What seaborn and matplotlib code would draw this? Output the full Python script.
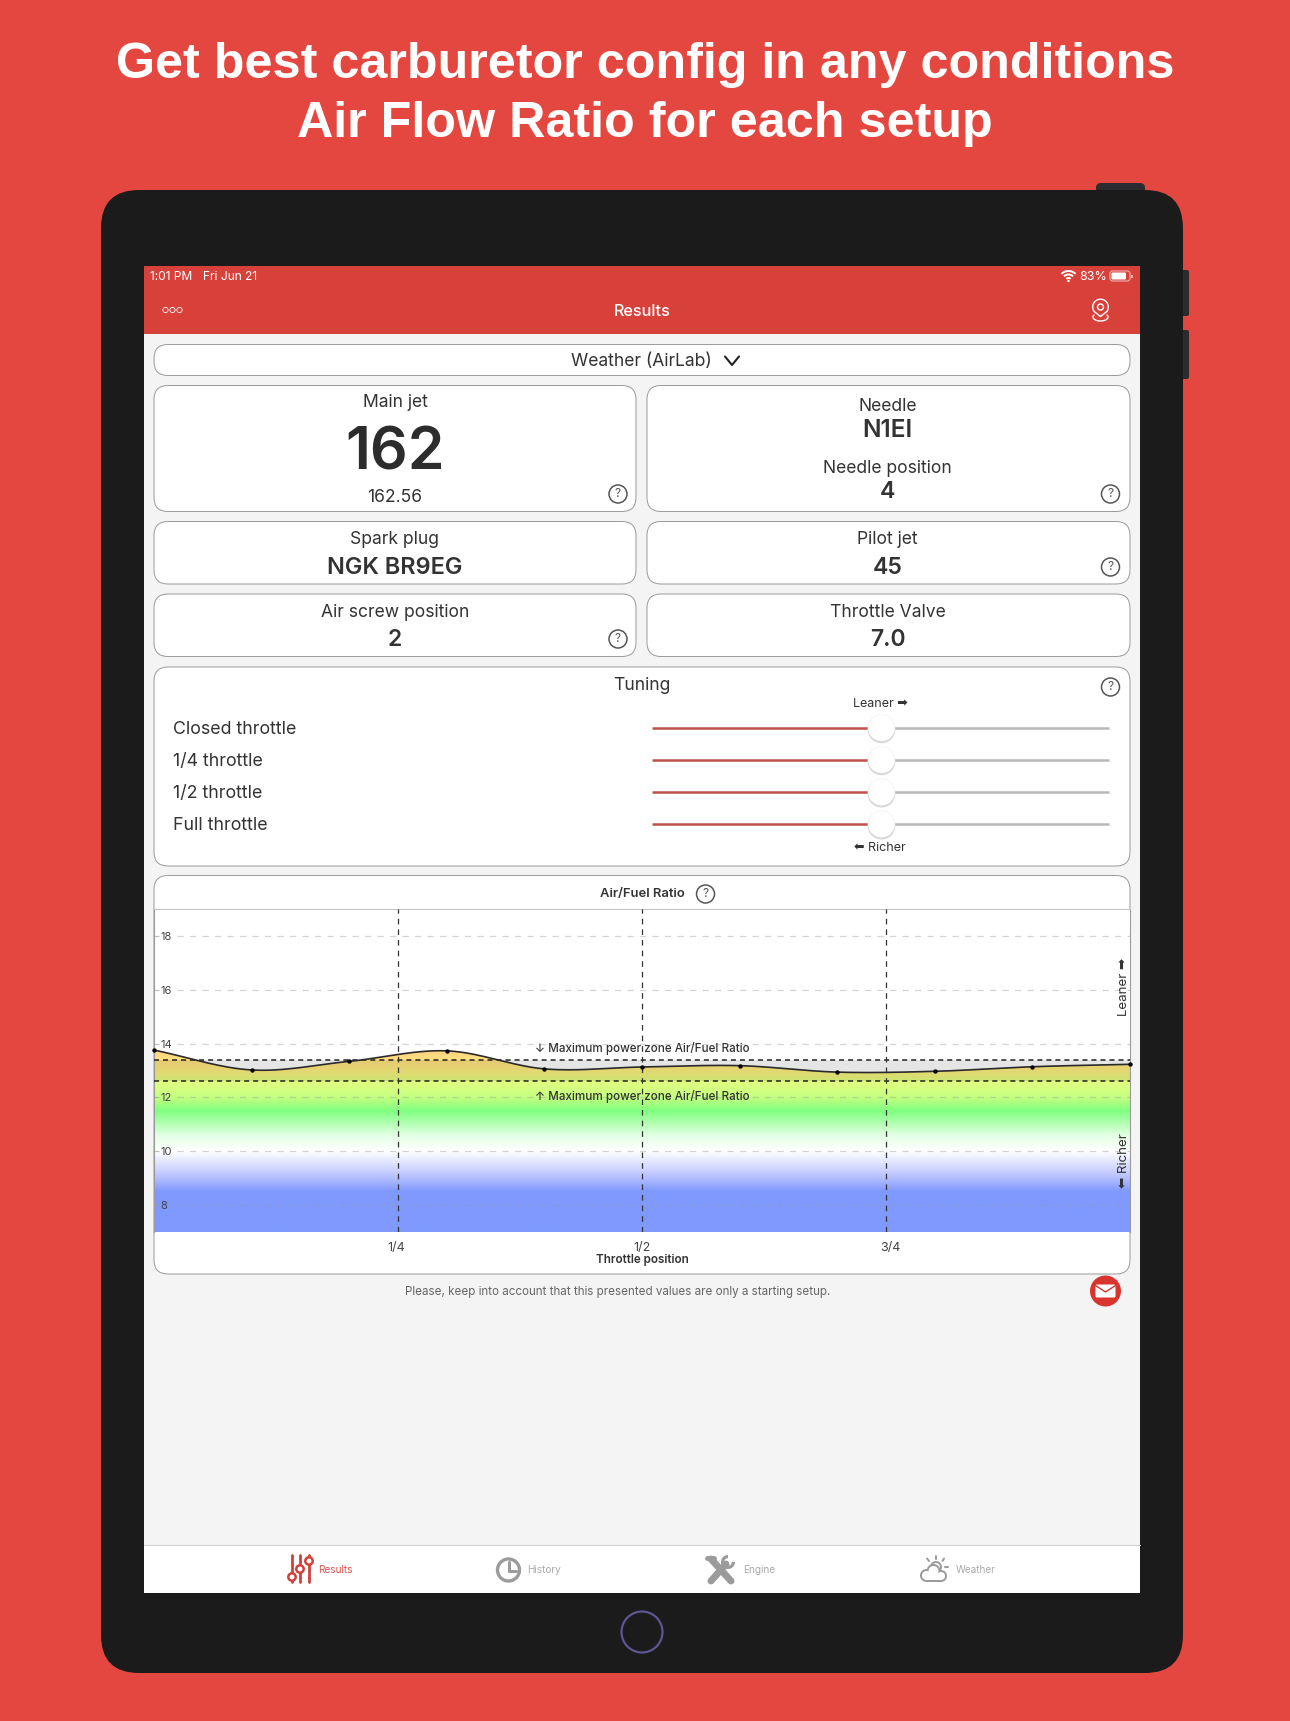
import numpy as np
import pandas as pd
import seaborn as sns
import matplotlib.pyplot as plt
from matplotlib.colors import LinearSegmentedColormap
from matplotlib.patches import Arc, Circle, FancyBboxPatch, PathPatch, Rectangle, Wedge
from matplotlib.path import Path
from matplotlib.transforms import ScaledTranslation

# chart data
throttle = [0.0, 0.1, 0.2, 0.3, 0.4, 0.5, 0.6, 0.7, 0.8, 0.9, 1.0]
afr = [13.76, 13.02, 13.34, 13.73, 13.06, 13.13, 13.18, 12.94, 12.97, 13.14, 13.23]
y_ticks = [8, 10, 12, 14, 16, 18]
x_ticks = [0.25, 0.5, 0.75]
x_tick_labels = ["1/4", "1/2", "3/4"]
x_label_shift = [-2.2, 0, 4.4]
power_zone = [12.6, 13.4]
grad_stops = [7, 8.5, 9.0, 9.3, 10, 10.6, 11.5, 12.0, 12.6, 13, 14, 19]
grad_colors = ["#7f99ff", "#7f99ff", "#b4beff", "#cdd3ff", "#ffffff", "#e2ffe2", "#80ff80",
               "#c4ff80", "#e4ff80", "#fff080", "#ffc880", "#ffc880"]

slider_names = ["Closed throttle", "1/4 throttle", "1/2 throttle", "Full throttle"]
slider_pos = [727.7, 759.7, 792, 824]

RED_BG = "#e44740"
RED_BAR = "#d8403a"
DARK = "#1b1b1b"
TXT = "#333333"
GREY_ICON = "#9b9b9b"

sns.set_theme(style="white")
plt.rcParams["font.family"] = ["Inter", "DejaVu Sans"]

fig = plt.figure(figsize=(12.9, 17.21), dpi=100, facecolor=RED_BG)
ui = fig.add_axes([0, 0, 1, 1])
ui.set_xlim(0, 1290)
ui.set_ylim(1721, 0)
ui.axis("off")


def text(x, y, s, px=18, color=TXT, weight="normal", ha="center", **kw):
    return ui.text(x, y + 1.5, s, fontsize=px * 0.72, color=color, fontweight=weight, ha=ha, va="center", **kw)


def rbox(x0, y0, x1, y1, r, fc="white", ec="#9a9a9a", lw=0.7, z=1):
    p = FancyBboxPatch((x0 + r, y0 + r), x1 - x0 - 2 * r, y1 - y0 - 2 * r,
                       boxstyle=f"round,pad={r}", fc=fc, ec=ec, lw=lw, zorder=z)
    ui.add_patch(p)


def rect(x0, y0, x1, y1, color, z=1):
    ui.add_patch(Rectangle((x0, y0), x1 - x0, y1 - y0, fc=color, ec="none", zorder=z))


def help_icon(x, y):
    ui.add_patch(Circle((x, y), 9, fc="none", ec="#555555", lw=1.1, zorder=3))
    text(x, y - 1.5, "?", 12, color="#555555", zorder=3)


# headline
for yy, line in [(64.5, "Get best carburetor config in any conditions"), (124, "Air Flow Ratio for each setup")]:
    ui.text(645, yy, line, fontsize=36.2, color="white", fontweight="bold", ha="center", va="center",
            family="Liberation Sans")

# tablet body and buttons
rbox(1096, 183, 1145, 200, 5, fc="#2b2b30", ec="none", z=0)
rbox(1178, 270, 1189, 316, 2, fc="#2b2b30", ec="none", z=0)
rbox(1178, 330, 1189, 379, 2, fc="#2b2b30", ec="none", z=0)
rbox(101, 190, 1183, 1673, 38, fc=DARK, ec="none", z=0.5)
ui.add_patch(Circle((642, 1632), 20.5, fc="none", ec="#5b5592", lw=1.6, zorder=1))

# screen
rect(144, 266, 1140, 334, RED_BAR)
rect(144, 334, 1140, 1545, "#f4f4f4")
rect(144, 1545, 1140, 1593, "white")
ui.plot([144, 1140], [1545, 1545], color="#d0d0d0", lw=0.8, zorder=2)

# status bar
text(150, 275, "1:01 PM", 12, color="white", ha="left", zorder=3)
text(203, 275, "Fri Jun 21", 12, color="white", ha="left", zorder=3)
text(1093, 275, "83%", 12.5, color="white", zorder=3)
for rad in (3, 6.5, 10):
    ui.add_patch(Arc((1068.5, 281), 2 * rad, 2 * rad, theta1=225, theta2=315, color="white", lw=1.4, zorder=3))
ui.add_patch(Circle((1068.5, 281), 1.2, fc="white", ec="none", zorder=3))
rbox(1110, 271, 1130, 281, 2.5, fc="none", ec="#f0b0ac", lw=0.8, z=3)
rbox(1111.5, 272.5, 1126, 279.5, 1, fc="white", ec="none", z=3)
rect(1131, 274.5, 1132.5, 277.5, "#f0b0ac", z=3)

# nav bar
text(642, 309.5, "Results", 16.3, color="white", weight="medium", zorder=3)
for cx in (165.5, 172.5, 179.5):
    ui.add_patch(Circle((cx, 310), 2.6, fc="none", ec="white", lw=0.6, zorder=3))

# pin icon
ang = np.radians(np.linspace(-35, 215, 40))
pin_x = np.r_[1100.5, 1100.5 + 7.8 * np.cos(ang), 1100.5]
pin_y = np.r_[316.5, 307 - 7.8 * np.sin(ang), 316.5]
ui.plot(pin_x, pin_y, color="white", lw=1, zorder=3)
ui.add_patch(Circle((1100.5, 307), 3, fc="none", ec="white", lw=1, zorder=3))
ang = np.radians(np.linspace(150, 390, 30))
ui.plot(1100.5 + 7.5 * np.cos(ang), 317 - 4 * np.sin(ang), color="white", lw=1, zorder=3)

# dropdown
rbox(154, 344.5, 1130, 375.5, 14)
text(641, 360.5, "Weather (AirLab)", 17.5, zorder=3)
ui.plot([725, 732, 739], [356.5, 365, 356.5], color="#222222", lw=1.5, zorder=3)

# cards
rbox(154, 385.5, 636, 511.5, 14)
rbox(647, 385.5, 1130, 511.5, 14)
rbox(154, 521.5, 636, 584, 14)
rbox(647, 521.5, 1130, 584, 14)
rbox(154, 594, 636, 656.5, 14)
rbox(647, 594, 1130, 656.5, 14)

text(395, 401, "Main jet", 17.5)
text(395, 452, "162", 59, weight="semibold", color="#2c2c2c")
text(395, 496, "162.56", 17.5)
help_icon(618, 494)
text(887.5, 405, "Needle", 17.5)
text(887.5, 429, "N1EI", 24.5, weight="semibold")
text(887.5, 467, "Needle position", 17.5)
text(887.5, 491, "4", 23, weight="semibold")
help_icon(1110.5, 494)
text(395, 538, "Spark plug", 17.5)
text(395, 566, "NGK BR9EG", 23.5, weight="semibold")
text(887.5, 538, "Pilot jet", 17.5)
text(887.5, 566, "45", 23, weight="semibold")
help_icon(1110.5, 567)
text(395, 611, "Air screw position", 17.5)
text(395, 638, "2", 23, weight="semibold")
help_icon(618, 639)
text(887.5, 611, "Throttle Valve", 17.5)
text(887.5, 638, "7.0", 23, weight="semibold")

# tuning sliders
rbox(154, 667, 1130, 866, 14)
text(642, 684, "Tuning", 17.5, zorder=3)
help_icon(1110.5, 687)
text(880, 702.5, "Leaner ➡", 12.5, zorder=3)
text(880, 846.5, "⬅ Richer", 12.5, zorder=3)
for name, yy in zip(slider_names, slider_pos):
    text(173, yy, name, 17.8, ha="left", zorder=3)
    ui.plot([651.5, 875], [yy, yy], color="#c0504d", lw=1.8, zorder=3, solid_capstyle="butt")
    ui.plot([875, 1109], [yy, yy], color="#b8b8b8", lw=1.8, zorder=3, solid_capstyle="butt")
    ui.add_patch(Circle((881.5, yy + 1.5), 14, fc="#d6d6d6", ec="none", zorder=3.5))
    ui.add_patch(Circle((881.5, yy), 13.3, fc="white", ec="#f2f2f2", lw=0.5, zorder=4))

# chart card
rbox(154, 875.5, 1130, 1274, 14)
text(642, 893, "Air/Fuel Ratio", 13, weight="semibold", zorder=3)
help_icon(705.5, 894)

ax = fig.add_axes([154 / 1290, 1 - 1232 / 1721, 976 / 1290, 323 / 1721], zorder=5)
ax.set_facecolor("white")
ax.set_axisbelow(False)
ax.set_xlim(0, 1)
ax.set_ylim(7, 19)
ax.spines["bottom"].set_visible(False)
for side, col in [("top", "#c4c4c4"), ("left", "#9a9a9a"), ("right", "#9a9a9a")]:
    ax.spines[side].set_color(col)
    ax.spines[side].set_linewidth(0.8)

# smooth curve through the readings (cubic Hermite with Catmull-Rom slopes)
xs = np.array(throttle)
ys = np.array(afr)
slopes = np.gradient(ys, xs)
xx = []
yy_c = []
for i in range(len(xs) - 1):
    h = xs[i + 1] - xs[i]
    t = np.linspace(0, 1, 30)
    xx.extend(xs[i] + t * h)
    yy_c.extend((2*t**3 - 3*t**2 + 1) * ys[i] + (t**3 - 2*t**2 + t) * h * slopes[i]
                + (-2*t**3 + 3*t**2) * ys[i + 1] + (t**3 - t**2) * h * slopes[i + 1])
curve = pd.DataFrame({"x": xx, "y": yy_c})
points = pd.DataFrame({"throttle": throttle, "afr": afr})

# gradient under the curve
stops = [(v - grad_stops[0]) / (grad_stops[-1] - grad_stops[0]) for v in grad_stops]
cmap = LinearSegmentedColormap.from_list("afr", list(zip(stops, grad_colors)), N=1024)
grad = np.linspace(1, 0, 800).reshape(-1, 1)
im = ax.imshow(grad, cmap=cmap, vmin=0, vmax=1, extent=(0, 1, 7, 19), aspect="auto", zorder=1)
verts = list(zip(xx, yy_c)) + [(1, 7), (0, 7)]
clip = PathPatch(Path(verts + [verts[0]], closed=True), transform=ax.transData, fc="none", ec="none")
ax.add_patch(clip)
im.set_clip_path(clip)
ax.set_xlim(0, 1)
ax.set_ylim(7, 19)

# power zone band and lines
ax.axhspan(power_zone[0], power_zone[1], color="black", alpha=0.1, lw=0, zorder=2)
for v in power_zone:
    ax.axhline(v, color="#222222", lw=1.1, dashes=(3.3, 2.6), zorder=3)
ax.hlines(y_ticks, 0.024, 1, color="#999999", alpha=0.42, lw=0.9, linestyles=(0, (5, 5)), zorder=2.5)
ax.hlines(y_ticks, 0, 0.005, color="#999999", alpha=0.6, lw=0.9, zorder=2.5)
ax.vlines(x_ticks, 7, 19, color="#333333", lw=0.9, linestyles=(0, (4.5, 4)), zorder=3)

sns.lineplot(data=curve, x="x", y="y", ax=ax, color="#2a2a2a", lw=1.2, zorder=4, sort=False, errorbar=None)
sns.scatterplot(data=points, x="throttle", y="afr", ax=ax, color="black", s=10, linewidth=0, zorder=5, clip_on=False)
ax.set_xlabel("")
ax.set_ylabel("")

ax.set_yticks(y_ticks)
ax.set_yticklabels([str(v) for v in y_ticks], fontsize=8, color="#444444", ha="left")
ax.set_xticks(x_ticks)
ax.set_xticklabels(x_tick_labels, fontsize=9, color="#444444")
ax.tick_params(axis="y", length=0, pad=-4.5)
ax.tick_params(axis="x", length=0, pad=7)
for lbl, dx in zip(ax.get_xticklabels(), x_label_shift):
    lbl.set_transform(lbl.get_transform() + ScaledTranslation(dx / 100, 0, fig.dpi_scale_trans))

ax.text(0.5, -0.088, "Throttle position", transform=ax.transAxes, fontsize=8.4, fontweight="semibold",
        color="#333333", ha="center", va="center")
ax.text(0.5, 13.8, "↓ Maximum power zone Air/Fuel Ratio", fontsize=8.4, fontweight="medium", color="#333333",
        ha="center", va="center", zorder=6)
ax.text(0.5, 12.04, "↑ Maximum power zone Air/Fuel Ratio", fontsize=8.4, fontweight="medium", color="#333333",
        ha="center", va="center", zorder=6)
ax.text(0.9935, 16.1, "Leaner ➡", fontsize=9.6, color="#333333", rotation=90, ha="center", va="center", zorder=6)
ax.text(0.9935, 9.65, "⬅ Richer", fontsize=9.6, color="#333333", rotation=90, ha="center", va="center", zorder=6)

# footer note and mail button
text(617.5, 1290, "Please, keep into account that this presented values are only a starting setup.", 11.6,
     color="#666666", zorder=3)
ui.add_patch(Circle((1105.5, 1291), 15.5, fc="#d8352e", ec="none", zorder=3))
rbox(1095.5, 1284.5, 1115.5, 1297.5, 1.5, fc="white", ec="none", z=4)
ui.plot([1095.5, 1105.5, 1115.5], [1285.5, 1292, 1285.5], color="#d8352e", lw=1, zorder=5)

# tab bar
text(318.5, 1568.5, "Results", 10, color="#d9534f", ha="left", zorder=3)
text(527, 1568.5, "History", 10, color="#aaaaaa", ha="left", zorder=3)
text(743, 1568.5, "Engine", 10, color="#aaaaaa", ha="left", zorder=3)
text(956, 1568.5, "Weather", 10, color="#aaaaaa", ha="left", zorder=3)

# results icon
for cx, cy in [(292, 1577), (300, 1569), (309, 1561)]:
    ui.plot([cx, cx], [1555, 1582], color="#d0413a", lw=2, zorder=3)
    ui.add_patch(Circle((cx, cy), 3.7, fc="white", ec="#d0413a", lw=1.8, zorder=4))

# history icon
ui.add_patch(Circle((508.5, 1570), 11, fc="none", ec=GREY_ICON, lw=2.4, zorder=3))
ui.plot([508.5, 508.5, 516], [1562, 1571, 1571], color=GREY_ICON, lw=2.2, zorder=3)

# engine icon
ui.plot([711, 731], [1559, 1581], color=GREY_ICON, lw=5, zorder=3, solid_capstyle="round")
ui.plot([711, 726], [1581, 1564], color=GREY_ICON, lw=5, zorder=3, solid_capstyle="round")
ui.plot([707, 714], [1558, 1558], color=GREY_ICON, lw=3.5, zorder=3)
ui.add_patch(Wedge((728, 1562), 7, 0, 270, width=3.2, fc=GREY_ICON, ec="none", zorder=3))

# weather icon
ui.add_patch(Circle((936, 1567), 5, fc="none", ec=GREY_ICON, lw=1.4, zorder=3))
lobes = [(926.5, 1575.5, 5.5), (933.5, 1571, 6), (941, 1576, 5)]
for cx, cy, r in lobes:
    ui.add_patch(Circle((cx, cy), r + 1, fc=GREY_ICON, ec="none", zorder=3.2))
rect(926, 1574, 942, 1582, GREY_ICON, z=3.2)
for cx, cy, r in lobes:
    ui.add_patch(Circle((cx, cy), r - 1, fc="white", ec="none", zorder=3.3))
rect(926, 1574, 942, 1580, "white", z=3.3)
for a, b, c, d in [(936, 1556, 936, 1559), (927, 1558.5, 929, 1561), (944, 1558.5, 942.5, 1561), (945, 1567, 948, 1567)]:
    ui.plot([a, c], [b, d], color=GREY_ICON, lw=1.4, zorder=3)

fig.savefig("out.png", dpi=100, facecolor=RED_BG)
